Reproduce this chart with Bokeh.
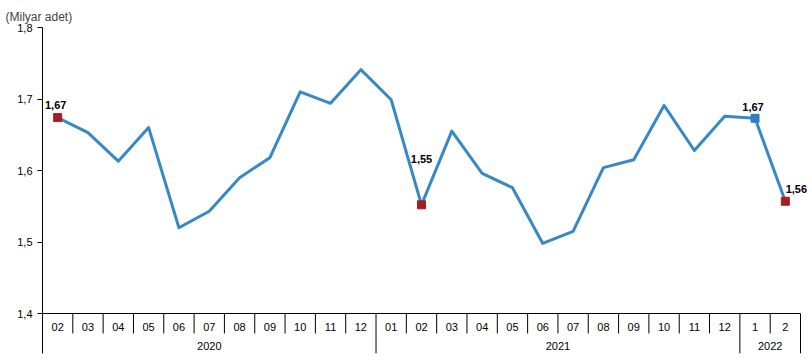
from bokeh.plotting import figure
from bokeh.models import Range1d, FixedTicker, CustomJSTickFormatter, ColumnDataSource, LabelSet
from bokeh.core.properties import value
from bokeh.embed import file_html
from bokeh.resources import INLINE

# ---- data ----
months = ["02", "03", "04", "05", "06", "07", "08", "09", "10", "11", "12",
          "01", "02", "03", "04", "05", "06", "07", "08", "09", "10", "11", "12",
          "1", "2"]
years = ["2020"] * 11 + ["2021"] * 12 + ["2022"] * 2
values = [1.674, 1.653, 1.613, 1.660, 1.520, 1.543, 1.590, 1.618, 1.710, 1.694, 1.741,
          1.699, 1.552, 1.655, 1.596, 1.576, 1.498, 1.515, 1.604, 1.615, 1.691, 1.628, 1.676,
          1.673, 1.557]
labelled = [0, 12, 23, 24]
marker_colors = ["#a51e22", "#a51e22", "#2e7fbf", "#a51e22"]
y_ticks = [1.4, 1.5, 1.6, 1.7, 1.8]

# ---- style / layout constants ----
FONT = "Liberation Sans"
LINE_COLOR = "#3789c6"
label_dx = [-2, 0, -2, 11]
label_dy = [-13, -46, -11, -12]
Y_BASE = 1.4
PX = 715.0  # pixels per unit on y
Y_MIN = Y_BASE - 40 / PX
MONTH_Y = Y_BASE - 13 / PX
YEAR_Y = Y_BASE - 32 / PX
SEP_SHORT = Y_BASE - 20 / PX
X_PAD = 10 / 30.32  # extra room right of the last category for its label

n = len(months)
xs = [i + 0.5 for i in range(n)]

p = figure(width=812, height=361,
           min_border_left=42, min_border_right=2, min_border_top=27, min_border_bottom=8,
           x_range=Range1d(0, n + X_PAD), y_range=Range1d(Y_MIN, 1.8),
           x_axis_type=None, output_backend="svg", toolbar_location=None,
           title="(Milyar adet)")
p.title.text_font = FONT
p.title.text_font_size = "12px"
p.title.text_font_style = "normal"
p.title.standoff = 8
p.title.offset = -37
p.xgrid.visible = False
p.ygrid.visible = False
p.outline_line_color = None
p.background_fill_color = "white"
p.border_fill_color = "white"

ya = p.yaxis[0]
ya.ticker = FixedTicker(ticks=y_ticks)
ya.formatter = CustomJSTickFormatter(code="return tick.toFixed(1).replace('.', ',');")
ya.major_tick_out = 5
ya.major_tick_in = 0
ya.minor_tick_line_color = None
ya.axis_line_color = "black"
ya.major_tick_line_color = "black"
ya.major_label_text_font = FONT
ya.major_label_text_font_size = "11px"
ya.major_label_text_color = "black"
ya.major_label_standoff = 5

# horizontal base line
p.segment(x0=[0], y0=[Y_BASE], x1=[n], y1=[Y_BASE], line_color="black", line_width=1)

# separators
group_bounds = [i for i in range(1, n) if years[i] != years[i - 1]] + [n]
month_bounds = [i for i in range(1, n) if i not in group_bounds]
p.segment(x0=month_bounds, y0=[Y_BASE] * len(month_bounds), x1=month_bounds,
          y1=[SEP_SHORT] * len(month_bounds), line_color="black", line_width=1)
p.segment(x0=group_bounds, y0=[Y_BASE] * len(group_bounds), x1=group_bounds,
          y1=[Y_MIN] * len(group_bounds), line_color="black", line_width=1)

# month labels
p.text(x=xs, y=[MONTH_Y] * n, text=months, text_align="center", text_baseline="middle",
       text_font=value(FONT), text_font_size="11px", text_color="black")

# year labels
year_names, year_centers = [], []
start = 0
for b in group_bounds:
    year_names.append(years[start])
    year_centers.append((start + b) / 2)
    start = b
p.text(x=year_centers, y=[YEAR_Y] * len(year_centers), text=year_names, text_align="center",
       text_baseline="middle", text_font=value(FONT), text_font_size="11px", text_color="black")

# series line
p.line(xs, values, line_color=LINE_COLOR, line_width=3, line_join="round")

# markers + labels
src = ColumnDataSource(dict(
    x=[xs[i] for i in labelled],
    y=[values[i] for i in labelled],
    c=marker_colors,
    t=[f"{values[i]:.2f}".replace(".", ",") for i in labelled],
    dx=label_dx, dy=[-d for d in label_dy],
))
p.scatter("x", "y", source=src, marker="square", size=8, fill_color="c", line_color="c")
p.add_layout(LabelSet(x="x", y="y", text="t", source=src, x_offset="dx", y_offset="dy",
                      text_align="center", text_baseline="middle", text_font=value(FONT),
                      text_font_size="11px", text_font_style="bold", text_color="black"))

open("out.html", "w").write(file_html(p, INLINE))
